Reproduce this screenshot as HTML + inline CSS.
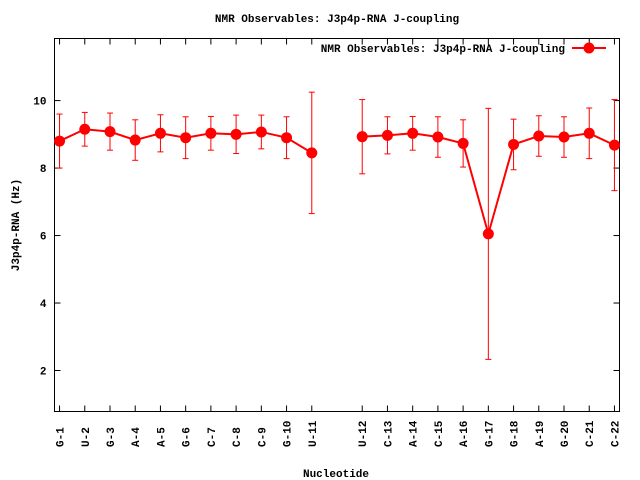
<!DOCTYPE html>
<html><head><meta charset="utf-8"><style>
html,body{margin:0;padding:0;background:#fff;}
svg{display:block;font-family:"Liberation Mono","DejaVu Sans Mono",monospace;font-weight:bold;font-size:11px;}
</style></head><body>
<svg id="chart" width="640" height="480" xmlns="http://www.w3.org/2000/svg">
<text x="337" y="22" text-anchor="middle">NMR Observables: J3p4p-RNA J-coupling</text>
<text transform="translate(19,225) rotate(-90)" text-anchor="middle">J3p4p-RNA (Hz)</text>
<text x="336" y="477" text-anchor="middle">Nucleotide</text>
<rect x="54.5" y="38.5" width="565" height="373" fill="none" stroke="#000" stroke-width="1"/>
<g id="axes"></g>
<g id="series"></g>
<g>
<text x="565" y="52" text-anchor="end">NMR Observables: J3p4p-RNA J-coupling</text>
<line x1="572" y1="48" x2="606" y2="48" stroke="#f00" stroke-width="2"/>
<circle cx="589" cy="48" r="5.5" fill="#f00"/>
</g>
</svg>
<script>
const categories=["G-1","U-2","G-3","A-4","A-5","G-6","C-7","C-8","C-9","G-10","U-11","U-12","C-13","A-14","C-15","A-16","G-17","G-18","A-19","G-20","C-21","C-22"];
const xPositions=[1,2,3,4,5,6,7,8,9,10,11,13,14,15,16,17,18,19,20,21,22,23];
const values=[8.8,9.15,9.08,8.83,9.03,8.9,9.03,9.0,9.07,8.9,8.45,8.93,8.97,9.03,8.92,8.73,6.05,8.7,8.95,8.92,9.03,8.68];
const errors=[0.8,0.5,0.55,0.6,0.55,0.62,0.5,0.57,0.5,0.62,1.8,1.1,0.55,0.5,0.6,0.7,3.72,0.75,0.6,0.6,0.75,1.35];
const yTicks=[2,4,6,8,10];
const NS="http://www.w3.org/2000/svg";
const L=54.5,R=619.5,T=38.5,B=411.5;
const xMin=0.8,xMax=23.2,yMin=0.785,yMax=11.84;
function sx(v){return L+(v-xMin)/(xMax-xMin)*(R-L);}
function sy(v){return B-(v-yMin)/(yMax-yMin)*(B-T);}
function mk(tag,attrs,parent){const e=document.createElementNS(NS,tag);for(const k in attrs)e.setAttribute(k,attrs[k]);parent.appendChild(e);return e;}
const axes=document.getElementById('axes');
yTicks.forEach(t=>{
  const y=sy(t);
  const g=mk('g',{},axes);
  
  
  mk('line',{x1:L,y1:y,x2:L+6,y2:y,stroke:'#000'},g);
  mk('line',{x1:R,y1:y,x2:R-6,y2:y,stroke:'#000'},g);
  const tx=mk('text',{x:L-8,y:y+4,'text-anchor':'end'},g);
  tx.textContent=t;
});
categories.forEach((c,i)=>{
  const x=sx(xPositions[i]);
  const g=mk('g',{},axes);
  
  
  mk('line',{x1:x,y1:B,x2:x,y2:B-6,stroke:'#000'},g);
  mk('line',{x1:x,y1:T,x2:x,y2:T+6,stroke:'#000'},g);
  const tx=mk('text',{transform:'translate('+(x+4)+',447) rotate(-90)','text-anchor':'start'},g);
  tx.textContent=c;
});
const series=document.getElementById('series');
// lines (break at gap)
let seg=[];
function flush(){if(seg.length>1){const p=mk('polyline',{points:seg.join(' '),fill:'none',stroke:'#f00','stroke-width':2},series);

}seg=[];}
xPositions.forEach((xv,i)=>{
  if(i>0&&xv-xPositions[i-1]>1)flush();
  seg.push(sx(xv)+','+sy(values[i]));
});
flush();
categories.forEach((c,i)=>{
  const x=sx(xPositions[i]);
  const y1=sy(values[i]+errors[i]),y2=sy(values[i]-errors[i]);
  const g=mk('g',{},series);
  
  
  mk('line',{x1:x,y1:y1,x2:x,y2:y2,stroke:'#f00','stroke-width':1},g);
  mk('line',{x1:x-3,y1:y1,x2:x+3,y2:y1,stroke:'#f00','stroke-width':1},g);
  mk('line',{x1:x-3,y1:y2,x2:x+3,y2:y2,stroke:'#f00','stroke-width':1},g);
  const pt=mk('circle',{cx:x,cy:sy(values[i]),r:5.5,fill:'#f00'},series);
  
  
});
</script>
</body></html>
